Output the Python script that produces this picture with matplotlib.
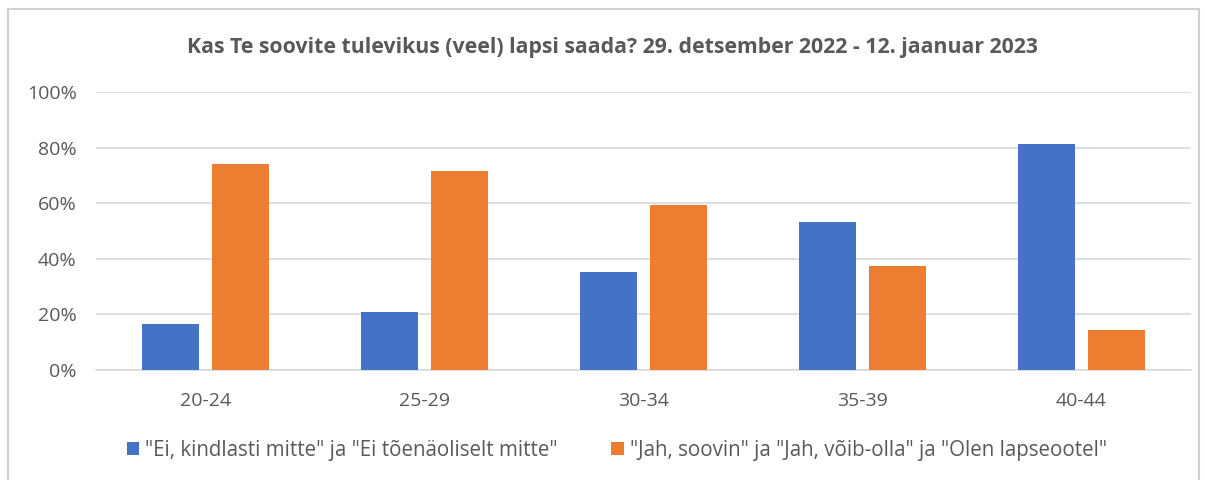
import numpy as np
import matplotlib.pyplot as plt
from matplotlib.patches import Rectangle
from matplotlib.ticker import PercentFormatter

plt.rcParams['font.family'] = ['Open Sans', 'DejaVu Sans']

categories = ['20-24', '25-29', '30-34', '35-39', '40-44']
ei = [16.5, 20.9, 35.3, 53.2, 81.3]
jah = [74.1, 71.6, 59.4, 37.4, 14.4]
labels = ['"Ei, kindlasti mitte" ja "Ei tõenäoliselt mitte"',
          '"Jah, soovin" ja "Jah, võib-olla" ja "Olen lapseootel"']
title = 'Kas Te soovite tulevikus (veel) lapsi saada? 29. detsember 2022 - 12. jaanuar 2023'

blue = '#4472C4'
orange = '#ED7D31'
grey = '#595959'

fig = plt.figure(figsize=(12.05, 4.8), dpi=100)
ax = fig.add_axes([0.0797, 0.229, 0.9083, 0.579])

x = np.arange(len(categories))
w = 0.26
ax.bar(x - 0.16, ei, w, color=blue, label=labels[0], zorder=3)
ax.bar(x + 0.16, jah, w, color=orange, label=labels[1], zorder=3)

ax.set_xlim(-0.5, len(categories) - 0.5)
ax.set_ylim(0, 100)
ax.set_yticks(range(0, 101, 20))
ax.yaxis.set_major_formatter(PercentFormatter(decimals=0))
ax.set_xticks(x)
ax.set_xticklabels(categories)
ax.tick_params(length=0, labelsize=14, colors=grey)
ax.tick_params(axis='x', pad=16)
ax.tick_params(axis='y', pad=14)
ax.grid(axis='y', color='#D9D9D9', linewidth=1.2, zorder=0)
for s in ['top', 'right', 'left']:
    ax.spines[s].set_visible(False)
ax.spines['bottom'].set_color('#D9D9D9')
ax.spines['bottom'].set_linewidth(1.2)

fig.text(0.508, 0.902, title, ha='center', va='center', fontsize=15.3,
         fontweight='bold', color=grey)

fig.legend(loc='center', bbox_to_anchor=(0.512, 0.062), ncol=2, frameon=False,
           fontsize=14.8, handlelength=0.6, handleheight=0.6, handletextpad=0.3,
           columnspacing=2.6, labelcolor=grey)

fig.patches.append(Rectangle((8 / 1205, -0.1), 1 - 14 / 1205, 1.1 - 9 / 480,
                             transform=fig.transFigure, fill=False,
                             edgecolor='#D0D0D0', linewidth=1.5))

fig.savefig('out.png', dpi=100)
